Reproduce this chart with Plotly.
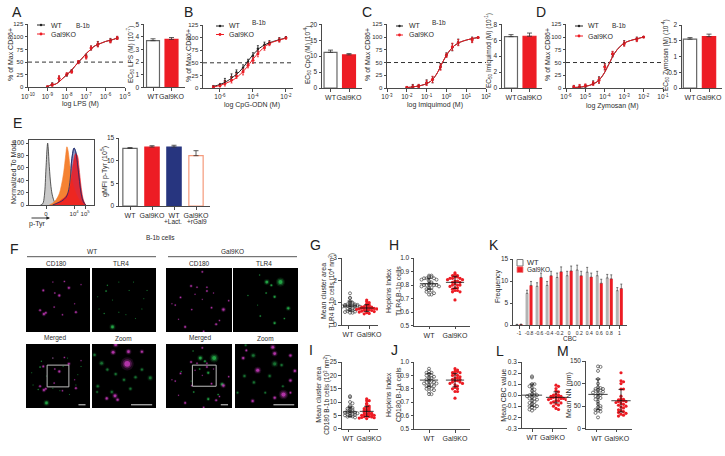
import plotly.graph_objects as go

W, H = 725, 456
INK = "#2b2b2b"
AX = "#4a4a4a"
RED = "#ED1C24"
FONT = "Liberation Sans"

# ---------- dose response data (x = log10 dose) ----------
groups = ["WT", "Gal9KO"]
A_x = [-9, -8.75, -8.4, -8, -7.75, -7.4, -7, -6.75, -6.4, -5.75, -5.4]
A_wt = [1, 6, 17, 25, 32, 50, 62, 78, 86, 93, 98]
A_ko = [1, 5, 18, 26, 31, 50, 60, 78, 85, 92, 98]
A_err = [1, 3, 5, 3, 3, 3, 4, 4, 5, 4, 3]
A_fx = [-9, -8.8, -8.6, -8.4, -8.2, -8, -7.8, -7.6, -7.4, -7.2, -7, -6.8, -6.6, -6.4, -6.2, -6, -5.8, -5.6, -5.4]
A_fit = [1, 5, 6, 11, 18, 25, 32, 41, 50, 58, 67, 74, 81, 85, 88, 91, 93, 95, 98]

B_x = [-6.4, -6, -5.7, -5.3, -5, -4.6, -4.3, -4, -3.7, -3.3, -3, -2.4, -2]
B_wt = [3, 6, 14, 22, 31, 40, 52, 64, 78, 86, 90, 96, 100]
B_ko = [2, 5, 9, 16, 24, 32, 45, 55, 68, 80, 88, 95, 99]
B_err = [2, 3, 5, 6, 5, 6, 5, 6, 6, 5, 4, 4, 2]
B_fx = [-6.4, -6, -5.6, -5.2, -4.8, -4.4, -4, -3.6, -3.2, -2.8, -2.4, -2]
B_wfit = [3, 7, 13, 22, 33, 49, 66, 79, 87, 92, 96, 99]
B_kfit = [2, 5, 10, 16, 26, 40, 57, 72, 84, 91, 95, 99]

C_x = [-2, -1.7, -1.4, -1, -0.7, -0.3, 0, 0.3, 0.6, 1.3, 1.6]
C_wt = [1, 3, 4, 11, 16, 42, 65, 80, 90, 95, 99]
C_ko = [1, 2, 4, 10, 17, 41, 64, 81, 89, 94, 99]
C_err = [2, 4, 3, 5, 6, 6, 4, 7, 6, 5, 1]
C_fx = [-2, -1.7, -1.4, -1.1, -0.8, -0.5, -0.2, 0.1, 0.4, 0.7, 1, 1.3, 1.6]
C_fit = [1, 2, 4, 7, 13, 27, 50, 70, 83, 90, 94, 97, 99]

D_x = [-5.6, -5.3, -5, -4.6, -4.3, -4, -3.6, -3, -2.35, -2]
D_wt = [2, 2, 4, 10, 16, 42, 66, 88, 96, 100]
D_ko = [2, 3, 5, 9, 15, 41, 67, 87, 95, 100]
D_err = [3, 4, 3, 4, 6, 6, 5, 5, 4, 1]
D_fx = [-5.6, -5.2, -4.8, -4.4, -4.1, -3.8, -3.5, -3.2, -2.9, -2.6, -2.3, -2]
D_fit = [1, 2, 5, 12, 25, 46, 68, 82, 90, 94, 97, 100]

# ---------- EC50 bars ----------
A_bar, A_bar_err = [3.7, 3.8], [0.15, 0.15]
B_bar, B_bar_err = [11.2, 10.4], [0.7, 0.4]
C_bar, C_bar_err = [6.45, 6.5], [0.25, 0.4]
D_bar, D_bar_err = [1.55, 1.63], [0.05, 0.08]

# ---------- E ----------
E_cats = ["WT", "Gal9KO", "WT", "Gal9KO"]
E_bar, E_err = [12.7, 13.0, 13.0, 11.1], [0.2, 0.3, 0.4, 1.1]
gray_x = [-0.5, -0.3, -0.15, 0, 0.1, 0.15, 0.2, 0.3, 0.45, 0.6, 0.8, 1.0]
gray_y = [0, 2, 15, 60, 92, 100, 92, 62, 30, 14, 4, 0]
orange_x = [0.3, 0.6, 0.9, 1.2, 1.4, 1.6, 1.8, 1.9, 2.0, 2.2, 2.4, 2.6, 2.9, 3.2, 3.5]
orange_y = [0, 3, 8, 18, 32, 52, 82, 94, 88, 60, 38, 25, 12, 4, 0]
red_x = [0.6, 1, 1.4, 1.8, 2.1, 2.3, 2.5, 2.7, 2.85, 3.0, 3.2, 3.4, 3.6]
red_y = [0, 3, 8, 14, 24, 45, 70, 83, 80, 60, 28, 8, 0]
blue_x = [0.6, 1, 1.4, 1.8, 2.0, 2.2, 2.35, 2.55, 2.7, 2.85, 3, 3.2, 3.4, 3.6]
blue_y = [0, 3, 6, 12, 20, 42, 75, 92, 86, 68, 45, 18, 5, 0]

# ---------- F spots (x, y, size) in percent of each image ----------
wt_cd180 = [(27,35,3.5),(67,31,4),(52,43,4),(60,21,2.5),(45,39,2.5),(44,61,2.5),(22,66,3.5),(28,72,4.5),(31,70,3.5),
            (78,69,3.5),(57,73,2.5),(86,26,2),(76,56,2),(42,22,2)]
wt_tlr4 = [(32,92,6),(22,36,2.5),(42,22,1.5),(65,22,1.5),(81,48,1.5),(9,45,1.5),(19,71,2),(53,73,1.5),(32,50,1.5),
           (78,64,1.5),(42,69,1.5),(24,27,2),(58,35,1.5),(68,79,1.5),(11,64,1.5),(86,35,1.5)]
wt_zoom_m = [(55,31,11),(33,13,5),(57,12,5),(37,1,5),(78,12,4),(36,81,5),(23,85,4),(40,87,4)]
wt_zoom_g = [(9,66,4),(8,75,3),(31,75,4),(50,56,4),(91,53,5),(4,17,4),(24,40,4),(68,52,4),(37,47,4),(15,30,5),(60,70,4),(78,40,4)]
ko_cd180 = [(55,6,3),(38,28,3.5),(47,30,2.5),(62,36,3),(22,46,3),(14,58,2.5),(39,65,2.5),(55,49,2),(69,62,3),(87,65,5),
            (76,88,3.5),(29,92,3.5),(81,82,2.5),(95,51,2.5),(19,80,2),(62,30,2.5),(72,39,2),(9,56,2),(57,99,3),(44,41,2)]
ko_tlr4 = [(73,22,9),(52,22,6),(59,27,3.5),(85,63,5),(64,86,4),(42,75,2.5),(41,11,2),(64,45,4),(23,43,2),(51,39,2.5),(79,79,2.5),(38,58,1.5)]
ko_zoom_m = [(60,5,5),(63,15,5),(88,18,4),(13,22,4),(36,41,6),(88,57,4),(95,42,4),(77,79,8),(63,84,4),(28,89,4),(88,76,3),(18,10,3)]
ko_zoom_g = [(29,18,5),(74,33,4),(63,31,6),(17,2,3),(76,66,3),(48,76,3),(4,76,3),(30,60,4),(55,50,4),(15,50,4)]

# ---------- swarm values ----------
G_wt = [1.42,1.22,1.2,1.05,1.0,.98,.95,.93,.92,.9,.9,.88,.87,.86,.85,.85,.84,.83,.82,.8,.78,.75,.72,.7,.68,.65,.62,.6,.58,.55,.55]
G_ko = [1.12,1.05,1.0,.95,.9,.88,.85,.82,.8,.8,.78,.78,.76,.75,.75,.74,.72,.72,.7,.7,.68,.68,.66,.65,.62,.6,.58,.55,.52,.5]
H_wt = [.87,.87,.86,.86,.85,.85,.85,.84,.84,.83,.82,.81,.81,.8,.8,.8,.8,.79,.79,.78,.78,.77,.76,.76,.75,.74,.73,.73]
H_ko = [.89,.88,.87,.87,.86,.86,.85,.85,.85,.84,.84,.83,.83,.82,.82,.81,.8,.8,.8,.79,.78,.78,.77,.76,.76,.75,.75,.69]
I_wt = [12.2,11.8,10,9.5,8.5,8,7.8,7.5,7.2,7,6.8,6.5,6.4,6.2,6,6,5.8,5.6,5.5,5.3,5.2,5,4.8,4.6,4.5,4.2]
I_ko = [11.2,10.5,10.5,9.5,9,8.5,8,7.8,7.5,7.2,7,6.8,6.5,6.3,6,5.8,5.6,5.5,5.3,5.2,5,5,4.8,4.6,4.5,4.4,4.2,4.1,4,3.8]
J_wt = [.95,.93,.92,.92,.91,.9,.9,.89,.88,.88,.87,.86,.86,.85,.85,.84,.84,.83,.83,.82,.82,.81,.8,.8,.79,.78,.76,.76]
J_ko = [.95,.94,.93,.93,.92,.92,.91,.9,.9,.89,.88,.88,.87,.87,.86,.86,.85,.85,.84,.84,.83,.82,.81,.8,.8,.78,.78,.73]
L_wt = [.17,.16,.1,.1,.08,.07,.05,.04,.02,.01,0,0,0,-.01,-.02,-.03,-.03,-.04,-.05,-.06,-.07,-.08,-.09,-.1,-.1,-.11,-.12,-.13,-.14]
L_ko = [.09,.08,.06,.04,.03,.01,0,0,-.01,-.01,-.02,-.02,-.02,-.03,-.03,-.03,-.04,-.04,-.05,-.05,-.06,-.07,-.07,-.08,-.09,-.1,-.12,-.13]
M_wt = [138,137,128,110,100,92,90,88,88,86,85,84,82,80,78,75,72,70,68,65,60,55,50,48,45,42,40,38,35,25]
M_ko = [124,106,104,100,88,88,72,66,65,64,63,62,60,60,58,56,54,52,50,48,46,42,40,38,36,34,32,30,28]
swarm_stats = {"G": [(.85, .22), (.76, .15)], "H": [(.81, .04), (.82, .045)], "I": [(6.3, 1.8), (6.5, 1.9)],
               "J": [(.865, .05), (.865, .05)], "L": [(0, .1), (-.02, .05)], "M": [(76, 34), (62, 25)]}

# ---------- K ----------
K_cats = ["-1", "-0.8", "-0.6", "-0.4", "-0.2", "0", "0.2", "0.4", "0.6", "0.8", "1"]
K_wt = [.05, 7.2, 8.8, 9, 10.8, 11.2, 12.5, 12, 11.2, 10.7, 7.8]
K_ko = [.1, 9, 10.8, 11.2, 12.1, 12.3, 11.2, 10.9, 9.5, 10.5, 8.3]
K_wt_err = [.1, .7, .8, .9, 1, 1, 1.1, 1.1, 1, .8, .7]
K_ko_err = [.1, .9, 1, 1, 1.1, 1.1, 1, .9, .9, .9, 1]

fig = go.Figure()
layout = {}
annos = []
shapes = []
count = [0]


def px(x):
    return x / W


def py(y):
    return 1 - y / H


def new_axes(box, xr, yr, xt=None, xl=None, yt=None, yl=None, xfont=7, yfont=6.5, visible=True, tick=2.5):
    """box = left, top, right, bottom in page pixels"""
    count[0] += 1
    n = count[0]
    xk, yk = f"xaxis{n}", f"yaxis{n}"
    base = dict(showgrid=False, zeroline=False, showline=visible, linecolor=AX, linewidth=1,
                ticks="outside" if visible else "", ticklen=tick, tickwidth=0.8, tickcolor=AX,
                showticklabels=visible, color=INK, fixedrange=True, automargin=False, tickangle=0)
    layout[xk] = dict(base, domain=[px(box[0]), px(box[2])], range=xr, anchor=f"y{n}", tickmode="array",
                      tickvals=xt or [], ticktext=xl or [], tickfont=dict(size=xfont, family=FONT, color=INK))
    layout[yk] = dict(base, domain=[py(box[3]), py(box[1])], range=yr, anchor=f"x{n}", tickmode="array",
                      tickvals=yt or [], ticktext=yl or [], tickfont=dict(size=yfont, family=FONT, color=INK))
    return f"x{n}", f"y{n}"


def T(x, y, text, size=7, angle=0, anchor="center", color=INK):
    annos.append(dict(x=px(x), y=py(y), xref="paper", yref="paper", text=text, showarrow=False, textangle=angle,
                      xanchor=anchor, yanchor="middle", font=dict(size=size, family=FONT, color=color)))


def L(x0, y0, x1, y1, color=AX, width=1, dash=None):
    shapes.append(dict(type="line", xref="paper", yref="paper", x0=px(x0), x1=px(x1), y0=py(y0), y1=py(y1),
                       line=dict(color=color, width=width, dash=dash)))


def expo(vals):
    return [f"10<sup>{v}</sup>" for v in vals]


def dose(box, xr, xt, xl, x, wt, ko, err, fx, wfit, kfit, wtcolor="#222222"):
    xa, ya = new_axes(box, xr, [0, 125], xt, xl, [0, 25, 50, 75, 100, 125], ["0", "25", "50", "75", "100", "125"],
                      xfont=6.5, yfont=6)
    fig.add_trace(go.Scatter(x=xr, y=[50, 50], mode="lines", xaxis=xa, yaxis=ya,
                             line=dict(color="#333333", width=1, dash="4px,3px")))
    fig.add_trace(go.Scatter(x=x, y=wt, mode="markers", xaxis=xa, yaxis=ya, marker=dict(size=2.5, color=wtcolor),
                             error_y=dict(type="data", array=err, color=wtcolor, thickness=0.8, width=1)))
    fig.add_trace(go.Scatter(x=x, y=ko, mode="markers", xaxis=xa, yaxis=ya, marker=dict(size=3, color=RED),
                             error_y=dict(type="data", array=err, color=RED, thickness=0.8, width=1)))
    fig.add_trace(go.Scatter(x=fx, y=wfit, mode="lines", xaxis=xa, yaxis=ya,
                             line=dict(color=wtcolor, width=1, shape="spline")))
    fig.add_trace(go.Scatter(x=fx, y=kfit, mode="lines", xaxis=xa, yaxis=ya,
                             line=dict(color=RED, width=1, shape="spline")))


def bars(box, cx, vals, errs, yr, yt, yl, colors, lines, labels, width, xr, lw=1.2, xfont=7):
    xa, ya = new_axes(box, xr, yr, cx, labels, yt, yl, xfont=xfont)
    fig.add_trace(go.Bar(x=cx, y=vals, width=width, xaxis=xa, yaxis=ya, marker=dict(color=colors, line=dict(color=lines, width=lw)),
                         error_y=dict(type="data", symmetric=False, array=errs, arrayminus=[0] * len(errs),
                                      color="#333333", thickness=0.8, width=2.5)))


def range_for(left, right, p0, p1):
    """data range for axis from page pixels of category 0 and 1"""
    s = p1 - p0
    return [(left - p0) / s, (right - p0) / s]


WHITE_BAR = ["#ffffff", RED]
LINES2 = ["#666666", RED]


def ec_bar(left, right, c0, c1, vals, errs, ymax, yt, top, bottom=87.5):
    bars((left, top, right, bottom), [0, 1], vals, errs, [0, ymax], yt, [str(v) for v in yt], WHITE_BAR, LINES2,
         groups, 0.7, range_for(left, right, c0, c1))


# ---- A ----
dose((28, 24.3, 125, 87.3), [-10, -5], [-10, -9, -8, -7, -6, -5], expo([-10, -9, -8, -7, -6, -5]),
     A_x, A_wt, A_ko, A_err, A_fx, A_fit, A_fit)
ec_bar(144, 185, 153, 171.5, A_bar, A_bar_err, 5, [0, 1, 2, 3, 4, 5], 24.3, 87.3)
# ---- B ----
dose((203, 25, 293, 88), [-7.03, -1.57], [-6, -4, -2], expo([-6, -4, -2]),
     B_x, B_wt, B_ko, B_err, B_fx, B_wfit, B_kfit)
ec_bar(322, 362, 330.5, 349, B_bar, B_bar_err, 20, [0, 5, 10, 15, 20], 24.3, 88)
# ---- C ----
dose((387, 24.3, 486, 88), [-3, 2], [-3, -2, -1, 0, 1, 2], expo([-3, -2, -1, 0, 1, 2]),
     C_x, C_wt, C_ko, C_err, C_fx, C_fit, C_fit)
ec_bar(502, 542, 511, 529.5, C_bar, C_bar_err, 8, [0, 2, 4, 6, 8], 24.3, 88)
# ---- D ----
dose((566, 24.3, 663, 88), [-6, -1], [-6, -5, -4, -3, -2, -1], expo([-6, -5, -4, -3, -2, -1]),
     D_x, D_wt, D_ko, D_err, D_fx, D_fit, D_fit)
bars((682, 25, 722, 88), [0, 1], D_bar, D_bar_err, [0, 2], [0, .5, 1, 1.5, 2], ["0", "0.5", "1", "1.5", "2"],
     WHITE_BAR, LINES2, groups, 0.7, range_for(682, 722, 690, 709))

# curve panel texts and legend keys
for (lx0, lx1, tx, y1, y2, bx, by, xtitle, xtx, xty, ytx) in [
    (37, 45, 49, 25, 34, 83, 26, "log LPS (M)", 80, 104, 11),
    (216, 224, 227, 26, 34.5, 259, 23, "log CpG-ODN (M)", 252, 105, 189),
    (396, 403, 407, 26, 35, 439, 23, "log Imiquimod (M)", 435, 105, 368),
    (575, 583, 586, 26, 36, 619, 25, "log Zymosan (M)", 612, 106, 548),
]:
    L(lx0, y1, lx1, y1, "#222222")
    L(lx0, y2, lx1, y2, RED)
    cx = (lx0 + lx1) / 2
    shapes.append(dict(type="circle", xref="paper", yref="paper", x0=px(cx - 1.2), x1=px(cx + 1.2), y0=py(y1 + 1.2), y1=py(y1 - 1.2),
                       fillcolor="#222222", line=dict(width=0)))
    shapes.append(dict(type="circle", xref="paper", yref="paper", x0=px(cx - 1.4), x1=px(cx + 1.4), y0=py(y2 + 1.4), y1=py(y2 - 1.4),
                       fillcolor=RED, line=dict(width=0)))
    T(tx, y1, "WT", 7, anchor="left")
    T(tx, y2, "Gal9KO", 7, anchor="left")
    T(bx, by, "B-1b", 6.5)
    T(xtx, xty, xtitle, 7)
    T(ytx, 55, "% of Max CD86+", 7, -90)
T(131, 55, "EC<sub>50</sub> LPS (M) (10<sup>-7</sup>)", 6.5, -90)
T(308, 55, "EC<sub>50</sub> CpG (M) (10<sup>-4</sup>)", 6.5, -90)
T(489, 51, "EC<sub>50</sub> Imiquimod (M) (10<sup>-1</sup>)", 6.5, -90)
T(666, 55, "EC<sub>50</sub> Zymosan (M) (10<sup>-4</sup>)", 6.5, -90)

# ---- E histogram ----
xa, ya = new_axes((29, 140, 94, 205), [-1.545, 4.36], [0, 105], [0, 2.55, 3.55], ["0", "10<sup>4</sup>", "10<sup>5</sup>"],
                  [0, 20, 40, 60, 80, 100], ["0", "20", "40", "60", "80", "100"], xfont=6)
layout[f"xaxis{count[0]}"]["mirror"] = True
layout[f"yaxis{count[0]}"]["mirror"] = True
fig.add_trace(go.Scatter(x=gray_x, y=gray_y, mode="lines", fill="tozeroy", xaxis=xa, yaxis=ya, fillcolor="#C9C9C9",
                         line=dict(color="#333333", width=0.8, shape="spline")))
fig.add_trace(go.Scatter(x=blue_x, y=blue_y, mode="lines", fill="tozeroy", xaxis=xa, yaxis=ya, fillcolor="#8E96C2",
                         line=dict(color="#27357F", width=0.8, shape="spline")))
fig.add_trace(go.Scatter(x=orange_x, y=orange_y, mode="lines", fill="tozeroy", xaxis=xa, yaxis=ya, fillcolor="#F58232",
                         line=dict(color="#F58232", width=0.6, shape="spline")))
fig.add_trace(go.Scatter(x=red_x, y=red_y, mode="lines", fill="tozeroy", xaxis=xa, yaxis=ya, fillcolor="rgba(236,22,30,0.85)",
                         line=dict(color=RED, width=0.6, shape="spline")))
fig.add_trace(go.Scatter(x=blue_x, y=blue_y, mode="lines", xaxis=xa, yaxis=ya,
                         line=dict(color="#1E2A66", width=0.8, shape="spline")))
T(13, 172, "Normalized To Mode", 7, -90)
T(37, 224, "p-Tyr", 7)
annos.append(dict(x=px(50), y=py(218), ax=-20, ay=0, xref="paper", yref="paper",
                  text="", showarrow=True, arrowhead=2, arrowsize=0.8, arrowwidth=0.9, arrowcolor="#222222"))
bars((119, 138, 210, 206), [0, 1, 2, 3], E_bar, E_err, [0, 15], [0, 5, 10, 15], ["0", "5", "10", "15"],
     ["#ffffff", RED, "#27357F", "#ffffff"], ["#666666", RED, "#27357F", "#F59A7C"], E_cats, 0.65,
     range_for(119, 210, 130, 152), xfont=7)
T(104, 172, "gMFI p-Tyr (10<sup>5</sup>)", 7, -90)
T(173, 221, "+Lact.", 6.5)
T(197, 221, "+rGal9", 6.5)


# ---- F images ----
def spots(xa, ya, data, color, k=0.6):
    xs = [d[0] for d in data]
    ys = [d[1] for d in data]
    for scale, alpha in [(1.7, 0.14), (1.2, 0.3), (0.75, 0.8)]:
        fig.add_trace(go.Scatter(x=xs, y=ys, mode="markers", xaxis=xa, yaxis=ya,
                                 marker=dict(size=[d[2] * k * scale for d in data], color=color, opacity=alpha, line=dict(width=0))))


MAG = "#C93BBE"
GRN = "#27B84E"
GRN_DIM = "#1B7F38"


def image(box, layers, square=None, bar=None, k=0.6):
    shapes.append(dict(type="rect", xref="paper", yref="paper", x0=px(box[0]), x1=px(box[2]), y0=py(box[3]), y1=py(box[1]),
                       fillcolor="#000000", line=dict(width=0), layer="below"))
    xa, ya = new_axes(box, [0, 100], [100, 0], visible=False)
    for data, color in layers:
        spots(xa, ya, data, color, k)
    if square:
        shapes.append(dict(type="rect", xref=xa, yref=ya, x0=square[0], x1=square[1], y0=square[2], y1=square[3],
                           line=dict(color="#BDBDBD", width=1)))
    if bar:
        shapes.append(dict(type="line", xref=xa, yref=ya, x0=bar[0], x1=bar[1], y0=95, y1=95,
                           line=dict(color="#E0E0E0", width=1)))


image((26, 268, 90, 332), [(wt_cd180, MAG)])
image((92, 268, 156, 332), [(wt_tlr4, GRN)])
image((26, 344, 90, 408), [(wt_tlr4, GRN), (wt_cd180, MAG)], (33, 67, 33, 67), (82, 93))
image((92, 344, 156, 408), [(wt_zoom_g, GRN_DIM), (wt_zoom_m, MAG)], None, (61, 94), k=0.7)
image((166, 268, 232, 332), [(ko_cd180, MAG)])
image((233, 268, 298, 332), [(ko_tlr4, GRN)])
image((166, 344, 232, 408), [(ko_tlr4, GRN), (ko_cd180, MAG)], (40, 76, 33, 66), (83, 94))
image((235, 344, 298, 408), [(ko_zoom_g, GRN_DIM), (ko_zoom_m, MAG)], None, (61, 94), k=0.7)
T(160, 238, "B-1b cells", 6.5)
T(92, 251, "WT", 6.5)
T(232, 251, "Gal9KO", 6.5)
L(27, 256.7, 156, 256.7, "#555555")
L(168, 256.7, 297, 256.7, "#555555")
for x, t in [(56, "CD180"), (121, "TLR4"), (199, "CD180"), (264, "TLR4")]:
    T(x, 263, t, 6.5)
for x, t in [(55, "Merged"), (123, "Zoom"), (200, "Merged"), (265, "Zoom")]:
    T(x, 338, t, 6.5)


# ---- swarm panels ----
def swarm_x(values, center, bin_size, step):
    """Lay the points out symmetrically around the centre, bin by bin."""
    bins = {}
    xs = []
    for v in values:
        b = round(v / bin_size)
        i = bins.get(b, 0)
        bins[b] = i + 1
        side = 1 if i % 2 else -1
        xs.append(center + side * ((i + 1) // 2) * step)
    return xs


def swarm(box, c0, c1, yr, yt, yl, wt, ko, stats, hw=0.42, bin_frac=0.05, step=2.5, lab=(0, 1), lab_font=7):
    xr = range_for(box[0], box[2], c0, c1)
    xa, ya = new_axes(box, xr, yr, list(lab), groups, yt, yl, xfont=lab_font)
    unit = 1 / (c1 - c0)
    size = (yr[1] - yr[0]) * bin_frac
    fig.add_trace(go.Scatter(x=swarm_x(wt, 0, size, step * unit), y=wt, mode="markers", xaxis=xa, yaxis=ya,
                             marker=dict(size=3, color="rgba(0,0,0,0)", line=dict(color="#444444", width=0.7))))
    fig.add_trace(go.Scatter(x=swarm_x(ko, 1, size, step * unit), y=ko, mode="markers", xaxis=xa, yaxis=ya,
                             marker=dict(size=3.2, color=RED)))
    for i, (m, s) in enumerate(stats):
        fig.add_trace(go.Scatter(x=[i], y=[m], mode="markers", xaxis=xa, yaxis=ya, marker=dict(size=1, color="#111111"),
                                 error_y=dict(type="data", array=[s], color="#111111", thickness=0.8, width=2.5),
                                 error_x=dict(type="data", array=[hw], color="#111111", thickness=0.8, width=0)))


swarm((341.7, 258, 378, 325), 350, 366.7, [0, 3], [0, 1, 2, 3], ["0", "1", "2", "3"], G_wt, G_ko, swarm_stats["G"],
      bin_frac=0.035, lab=(-0.12, 1.14))
swarm((414, 258, 470, 325.7), 429, 455, [.5, 1], [.5, .6, .7, .8, .9, 1], ["0.5", "0.6", "0.7", "0.8", "0.9", "1.0"],
      H_wt, H_ko, swarm_stats["H"], hw=0.35)
swarm((341.7, 362, 378, 428.7), 350, 366.7, [0, 25], [0, 5, 10, 15, 20, 25], ["0", "5", "10", "15", "20", "25"],
      I_wt, I_ko, swarm_stats["I"], bin_frac=0.035, lab=(-0.12, 1.14))
swarm((414, 362, 470, 429), 429, 455, [.5, 1], [.5, .6, .7, .8, .9, 1], ["0.5", "0.6", "0.7", "0.8", "0.9", "1.0"],
      J_wt, J_ko, swarm_stats["J"], hw=0.35)
swarm((521.7, 362, 566.7, 428.3), 532, 556, [-.3, .3], [-.3, -.2, -.1, 0, .1, .2, .3],
      ["-0.3", "-0.2", "-0.1", "0.0", "0.1", "0.2", "0.3"], L_wt, L_ko, swarm_stats["L"], lab=(0, 0.85))
swarm((585.7, 361, 631.7, 428.7), 598, 621, [0, 150], [0, 50, 100, 150], ["0", "50", "100", "150"],
      M_wt, M_ko, swarm_stats["M"], lab=(-0.06, 0.81))

T(323, 291, "Mean cluster area", 7, -90)
T(331.5, 291, "TLR4 B-1b cells (10<sup>4</sup> nm<sup>2</sup>)", 6.5, -90)
T(389, 291, "Hopkins Index", 7, -90)
T(398, 291, "TLR4 B-1b cells", 7, -90)
T(317.7, 395, "Mean cluster area", 7, -90)
T(326.7, 395, "CD180 B-1b cells (10<sup>3</sup> nm<sup>2</sup>)", 6.5, -90)
T(389, 395, "Hopkins Index", 7, -90)
T(398, 395, "CD180 B-1a cells", 7, -90)
T(502.7, 395, "Mean CBC value", 7, -90)
T(569, 395, "Mean NN (nm)", 7, -90)

# ---- K ----
kx = list(range(len(K_cats)))
xa, ya = new_axes((513, 259, 627, 325), [(513 - 519) / 10.03, (627 - 519) / 10.03], [0, 15], kx, K_cats,
                  [0, 5, 10, 15], ["0", "5", "10", "15"], xfont=5)
for vals, err, col, off in [(K_wt, K_wt_err, "#B3B3B3", -0.2), (K_ko, K_ko_err, RED, 0.2)]:
    fig.add_trace(go.Bar(x=[k + off for k in kx], y=vals, width=0.3, xaxis=xa, yaxis=ya, marker=dict(color=col, line=dict(width=0)),
                         error_y=dict(type="data", symmetric=False, array=err, arrayminus=[0] * len(err),
                                      color="#444444", thickness=0.7, width=1)))
T(570, 338, "CBC", 6.5)
T(498, 286, "Frequency", 7, -90)
shapes.append(dict(type="rect", xref="paper", yref="paper", x0=px(517), x1=px(523), y0=py(266), y1=py(259.5),
                   fillcolor="#ffffff", line=dict(color="#777777", width=1)))
shapes.append(dict(type="rect", xref="paper", yref="paper", x0=px(517), x1=px(523), y0=py(272.5), y1=py(266.8),
                   fillcolor=RED, line=dict(color="#F08080", width=0.8)))
T(525, 262.5, "WT", 7.5, anchor="left")
T(525, 269.5, "Gal9KO", 6.5, anchor="left")

# panel letters
for t, x, y in [("A", 17, 12), ("B", 188, 12), ("C", 367, 12), ("D", 541, 12), ("E", 17, 123), ("F", 14, 249),
                ("G", 315, 245), ("H", 394, 245), ("I", 311, 350), ("J", 394, 350), ("K", 494, 245), ("L", 500, 351), ("M", 563, 351)]:
    T(x, y, t, 14, color="#222222")

fig.update_layout(width=W, height=H, margin=dict(l=0, r=0, t=0, b=0), paper_bgcolor="#ffffff", plot_bgcolor="rgba(0,0,0,0)",
                  showlegend=False, annotations=annos, shapes=shapes, barmode="overlay", **layout)
fig.write_html("out.html", config={"displayModeBar": False}, post_script="document.body.style.margin='0';")
